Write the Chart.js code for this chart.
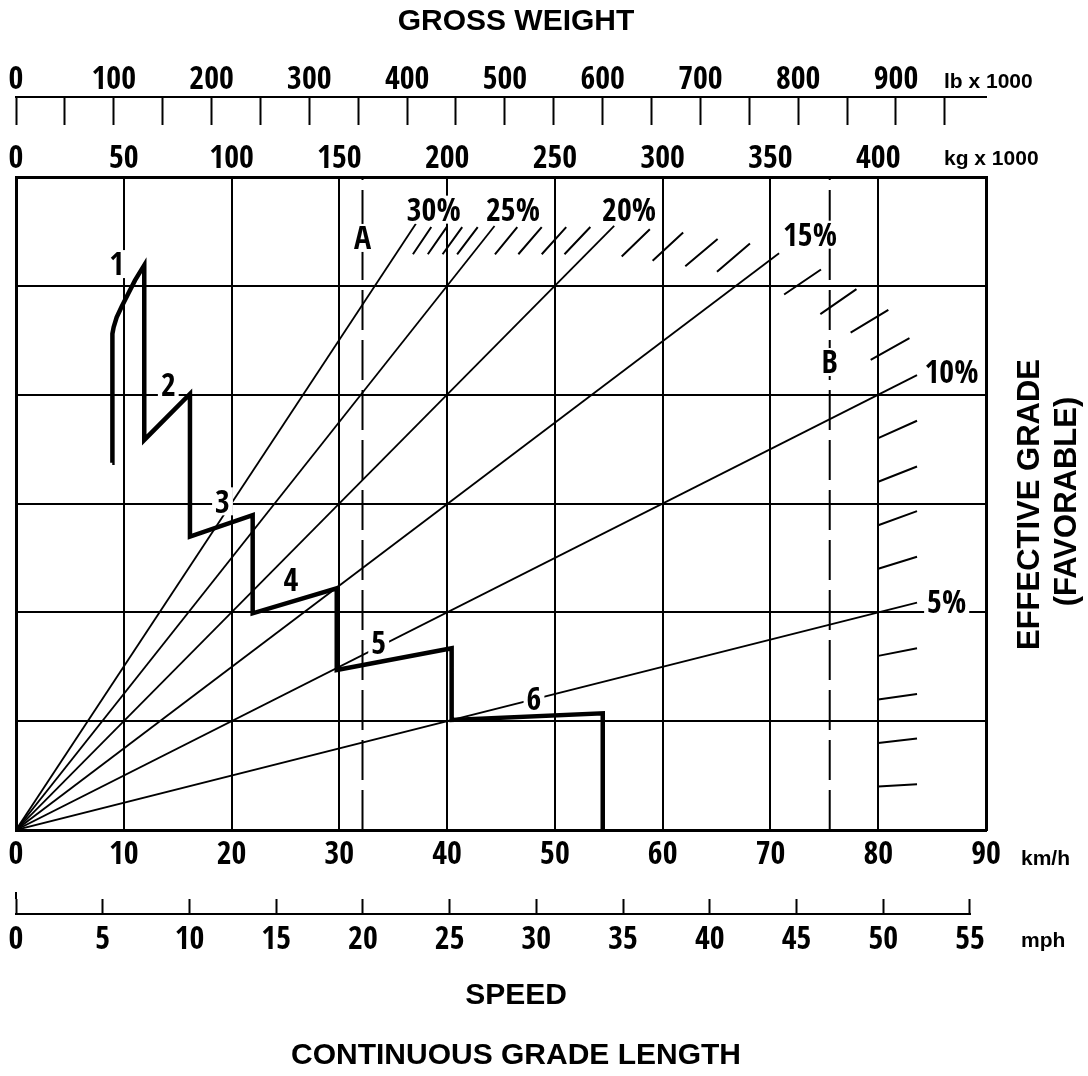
<!DOCTYPE html>
<html>
<head>
<meta charset="utf-8">
<title>Retarder performance</title>
<script src="https://cdn.jsdelivr.net/npm/chart.js@4.4.1/dist/chart.umd.min.js"></script>
<style>
  html, body { margin: 0; padding: 0; background: #fff; }
  #wrap { width: 1088px; height: 1076px; }
</style>
</head>
<body>
<div id="wrap"><canvas id="chart" width="1088" height="1076"></canvas></div>
<script>
// Axis ticks
const speedKmh = [0, 10, 20, 30, 40, 50, 60, 70, 80, 90];
const speedMph = [0, 5, 10, 15, 20, 25, 30, 35, 40, 45, 50, 55];
const weightKg = [0, 50, 100, 150, 200, 250, 300, 350, 400];
const weightLb = [0, 50, 100, 150, 200, 250, 300, 350, 400, 450, 500, 550, 600, 650, 700, 750, 800, 850, 900, 950];
const weightLbLabels = [0, 100, 200, 300, 400, 500, 600, 700, 800, 900];
const gradeRows = [0, 1, 2, 3, 4, 5, 6];

// unit conversions between the stacked axes
const KG_PER_KMH = 5;
const LB_PER_KG = 2.20462;
const KMH_PER_MPH = 1.609344;

// Effective grade lines (start at origin)
const gradeNames = ['30%', '25%', '20%', '15%', '10%', '5%'];
const gradeEndKmh = [37.1, 44.4, 55.5, 70.8, 83.6, 83.6];
const gradeEndValue = [5.57, 5.55, 5.55, 5.30, 4.18, 2.09];
const gradeLabelKmh = [38.76, 46.11, 56.88, 73.67, 86.8, 86.35];
const gradeLabelValue = [5.70, 5.70, 5.70, 5.47, 4.21, 2.10];

// Retarder curve, gears 1-6
const retarderKmh = [8.93, 8.93, 8.96, 9.06, 9.34, 9.81, 10.42, 11.04, 11.90, 11.90, 16.14, 16.14, 21.96, 21.96, 29.76, 29.76, 40.42, 40.42, 54.44, 54.44];
const retarderValue = [3.375, 4.50, 4.56, 4.62, 4.71, 4.81, 4.93, 5.05, 5.19, 3.584, 4.006, 2.695, 2.894, 1.991, 2.221, 1.470, 1.670, 1.011, 1.072, 0];
const gearNames = ['1', '2', '3', '4', '5', '6'];
const gearLabelKmh = [9.34, 14.13, 19.16, 25.5, 33.65, 48.06];
const gearLabelValue = [5.20, 4.09, 3.02, 2.30, 1.72, 1.21];

// Hatch marks (limit zone)
const hatchKmhFrom = [36.83, 38.21, 39.58, 40.93, 44.44, 46.61, 48.78, 50.89, 56.20, 59.07, 62.10, 65.04, 71.27, 74.63, 77.44, 79.30, 80.0, 80.0, 80.0, 80.0, 80.0, 80.0, 80.0, 80.0];
const hatchValFrom = [5.29, 5.29, 5.29, 5.29, 5.29, 5.29, 5.29, 5.29, 5.27, 5.23, 5.18, 5.13, 4.92, 4.74, 4.57, 4.32, 3.60, 3.20, 2.80, 2.40, 1.60, 1.20, 0.80, 0.40];
const hatchKmhTo = [38.53, 39.96, 41.40, 42.84, 46.51, 48.78, 51.05, 53.29, 58.81, 61.90, 65.10, 68.10, 74.69, 77.98, 80.94, 82.90, 83.6, 83.6, 83.6, 83.6, 83.6, 83.6, 83.6, 83.6];
const hatchValTo = [5.54, 5.54, 5.54, 5.54, 5.54, 5.54, 5.54, 5.54, 5.52, 5.49, 5.43, 5.39, 5.15, 4.97, 4.78, 4.52, 3.76, 3.34, 2.93, 2.51, 1.67, 1.25, 0.84, 0.42];

// Reference weights A and B
const refNames = ['A', 'B'];
const refKmh = [32.15, 75.5];
const refLabelValue = [5.44, 4.30];

const NARROW = "'Open Sans Condensed', 'Roboto Condensed', 'DejaVu Sans Condensed', sans-serif";
const SANS = "'Liberation Sans', Arial, Helvetica, sans-serif";
const tickFont = { family: NARROW, size: 32, weight: '800' };

const setTicks = arr => scale => { scale.ticks = arr.map(v => ({ value: v })); };

// datasets
const datasets = [];
gradeNames.forEach((name, i) => {
  datasets.push({
    label: name,
    data: [{ x: 0, y: 0 }, { x: gradeEndKmh[i], y: gradeEndValue[i] }],
    borderWidth: 1.8
  });
});

const hatchPoints = [];
hatchKmhFrom.forEach((x, i) => {
  hatchPoints.push({ x, y: hatchValFrom[i] });
  hatchPoints.push({ x: hatchKmhTo[i], y: hatchValTo[i] });
  hatchPoints.push({ x: hatchKmhTo[i], y: null });
});
datasets.push({ label: 'hatch', data: hatchPoints, borderWidth: 2, spanGaps: false });

refNames.forEach((name, i) => {
  datasets.push({
    label: name,
    data: [{ x: refKmh[i], y: 0 }, { x: refKmh[i], y: 6 }],
    borderWidth: 2,
    borderDash: [40, 10]
  });
});

datasets.push({
  label: 'retarder',
  data: retarderKmh.map((x, i) => ({ x, y: retarderValue[i] })),
  borderWidth: 4.5,
  borderJoinStyle: 'miter'
});

// extra drawing: note labels, titles, unit texts, outer axis lines
const extras = {
  id: 'extras',
  afterDatasetsDraw(chart) {
    const { ctx, scales } = chart;
    const notes = [];
    gearNames.forEach((t, i) => notes.push([t, gearLabelKmh[i], gearLabelValue[i]]));
    gradeNames.forEach((t, i) => notes.push([t, gradeLabelKmh[i], gradeLabelValue[i]]));
    refNames.forEach((t, i) => notes.push([t, refKmh[i], refLabelValue[i]]));

    ctx.save();
    ctx.font = `800 32px ${NARROW}`;
    ctx.textAlign = 'center';
    ctx.textBaseline = 'middle';
    notes.forEach(([t, sx, sy]) => {
      const px = scales.x.getPixelForValue(sx);
      const py = scales.y.getPixelForValue(sy);
      const w = ctx.measureText(t).width;
      ctx.fillStyle = '#fff';
      ctx.fillRect(px - w / 2 - 3, py - 14, w + 6, 28);
      ctx.fillStyle = '#000';
      ctx.fillText(t, px, py + 3);
    });
    ctx.restore();
  },
  afterDraw(chart) {
    const { ctx, chartArea, scales } = chart;
    const midX = (chartArea.left + chartArea.right) / 2 + 15;
    ctx.save();
    ctx.fillStyle = '#000';
    ctx.strokeStyle = '#000';

    // lb axis line (ticks hang below it)
    const lb = scales.lb;
    const lbLineY = lb.bottom - lb.options.grid.tickLength;
    ctx.lineWidth = 2;
    ctx.beginPath();
    ctx.moveTo(chartArea.left - 1, lbLineY);
    ctx.lineTo(chartArea.right + 1, lbLineY);
    ctx.stroke();

    // mph axis line (ticks stand on it)
    const mph = scales.mph;
    const mphLineY = mph.top + mph.options.grid.tickLength;
    ctx.beginPath();
    ctx.moveTo(chartArea.left - 1, mphLineY);
    ctx.lineTo(mph.getPixelForValue(speedMph[speedMph.length - 1]) + 1, mphLineY);
    ctx.moveTo(mph.getPixelForValue(0), mph.top - 7);
    ctx.lineTo(mph.getPixelForValue(0), mph.top);
    ctx.stroke();

    // titles
    ctx.textAlign = 'center';
    ctx.textBaseline = 'middle';
    ctx.font = `bold 30px ${SANS}`;
    ctx.fillText('GROSS WEIGHT', midX, 22);
    ctx.fillText('SPEED', midX, 996);
    ctx.fillText('CONTINUOUS GRADE LENGTH', midX, 1056);

    // rotated right title
    ctx.font = `bold 31px ${SANS}`;
    const cy = (chartArea.top + chartArea.bottom) / 2;
    ctx.save();
    ctx.translate(1030, cy + 1);
    ctx.rotate(-Math.PI / 2);
    ctx.fillText('EFFECTIVE GRADE', 0, 0);
    ctx.restore();
    ctx.save();
    ctx.translate(1067, cy - 2);
    ctx.rotate(-Math.PI / 2);
    ctx.fillText('(FAVORABLE)', 0, 0);
    ctx.restore();

    // units
    ctx.font = `bold 21px ${SANS}`;
    ctx.textAlign = 'left';
    ctx.textBaseline = 'alphabetic';
    const ux = chartArea.right - 42;
    ctx.fillText('lb x 1000', ux, 88);
    ctx.fillText('kg x 1000', ux, 165);
    ctx.fillText('km/h', chartArea.right + 35, 865);
    ctx.fillText('mph', chartArea.right + 35, 947);
    ctx.restore();
  }
};

const black = '#000';

new Chart(document.getElementById('chart'), {
  type: 'line',
  data: { datasets },
  options: {
    responsive: false,
    animation: false,
    devicePixelRatio: 1,
    layout: { padding: { top: 59, right: 102, bottom: 114, left: 16 } },
    plugins: {
      legend: { display: false },
      tooltip: { enabled: false },
      title: { display: false }
    },
    elements: {
      point: { radius: 0, hoverRadius: 0 },
      line: { borderColor: black, tension: 0, fill: false, borderCapStyle: 'butt' }
    },
    scales: {
      x: {
        type: 'linear', position: 'bottom', min: 0, max: 90,
        afterBuildTicks: setTicks(speedKmh),
        afterFit: s => { s.height = 69; },
        ticks: { font: tickFont, color: black, padding: 6, autoSkip: false, maxRotation: 0 },
        grid: { color: black, lineWidth: 2, drawTicks: false },
        border: { display: true, color: black, width: 3 }
      },
      mph: {
        type: 'linear', position: 'bottom', weight: 1, min: 0, max: 90 / KMH_PER_MPH,
        afterBuildTicks: setTicks(speedMph),
        afterFit: s => { s.height = 63; },
        ticks: { font: tickFont, color: black, padding: 7, autoSkip: false, maxRotation: 0 },
        grid: { display: true, drawOnChartArea: false, drawTicks: true, tickLength: 15, tickColor: black, tickWidth: 2 },
        border: { display: false }
      },
      kg: {
        type: 'linear', position: 'top', weight: 0, min: 0, max: 90 * KG_PER_KMH,
        afterBuildTicks: setTicks(weightKg),
        afterFit: s => { s.height = 52; },
        ticks: { font: tickFont, color: black, padding: -2, autoSkip: false, maxRotation: 0 },
        grid: { display: false, drawTicks: false },
        border: { display: true, color: black, width: 3 }
      },
      lb: {
        type: 'linear', position: 'top', weight: 1, min: 0, max: 90 * KG_PER_KMH * LB_PER_KG,
        afterBuildTicks: setTicks(weightLb),
        afterFit: s => { s.height = 66; },
        ticks: {
          font: tickFont, color: black, padding: -3, autoSkip: false, maxRotation: 0,
          callback: v => (weightLbLabels.includes(v) ? String(v) : '')
        },
        grid: { display: true, drawOnChartArea: false, drawTicks: true, tickLength: 28, tickColor: black, tickWidth: 2 },
        border: { display: false }
      },
      y: {
        type: 'linear', position: 'left', min: 0, max: 6,
        afterBuildTicks: setTicks(gradeRows),
        afterFit: s => { s.width = 0; },
        ticks: { display: false },
        grid: { color: black, lineWidth: 2, drawTicks: false },
        border: { display: true, color: black, width: 3 }
      },
      yRight: {
        type: 'linear', position: 'right', min: 0, max: 6,
        afterFit: s => { s.width = 0; },
        ticks: { display: false },
        grid: { display: false, drawTicks: false },
        border: { display: true, color: black, width: 3 }
      }
    }
  },
  plugins: [extras]
});
</script>
</body>
</html>
